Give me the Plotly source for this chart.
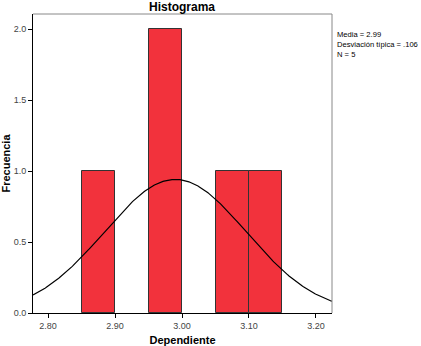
import numpy as np
import plotly.graph_objects as go

bin_left = [2.85, 2.95, 3.05, 3.10]
counts = [1, 2, 1, 1]
bin_width = 0.05
media = 2.99
desv = 0.106
n = 5
x_ticks = [2.80, 2.90, 3.00, 3.10, 3.20]
y_ticks = [0.0, 0.5, 1.0, 1.5, 2.0]

x_range = [2.7776, 3.2239]
y_range = [0, 2.106]

centers = [b + bin_width / 2 for b in bin_left]

xs = np.linspace(x_range[0], x_range[1], 300)
ys = n * bin_width / (desv * np.sqrt(2 * np.pi)) * np.exp(-0.5 * ((xs - media) / desv) ** 2)

fig = go.Figure()
fig.add_trace(go.Bar(x=centers, y=counts, width=bin_width,
                     marker=dict(color="#F2323C", line=dict(color="#333333", width=1)),
                     showlegend=False, hoverinfo="skip"))
fig.add_trace(go.Scatter(x=xs, y=ys, mode="lines", line=dict(color="#000000", width=1.2),
                         showlegend=False, hoverinfo="skip"))

fig.update_layout(
    width=421, height=346,
    margin=dict(l=33, r=89, t=14, b=33, autoexpand=False),
    paper_bgcolor="white", plot_bgcolor="white",
    font=dict(family="Arial, Liberation Sans", size=9, color="#444444"),
    title=dict(text="<b>Histograma</b>", x=182 / 421, xanchor="center", y=1 - 7 / 346, yanchor="middle",
               font=dict(size=12, color="#000000")),
    bargap=0,
    xaxis=dict(range=x_range, tickvals=x_ticks, ticktext=[f"{v:.2f}" for v in x_ticks],
               showgrid=False, zeroline=False, ticks="outside", ticklen=4, tickcolor="#000000",
               showline=True, linecolor="#000000", linewidth=1, mirror=False, automargin=False,
               title=dict(text="<b>Dependiente</b>", font=dict(size=11, color="#000000"), standoff=7)),
    yaxis=dict(range=y_range, tickvals=y_ticks, ticktext=[f"{v:.1f}" for v in y_ticks],
               showgrid=False, zeroline=False, ticks="outside", ticklen=4, tickcolor="#000000",
               showline=True, linecolor="#000000", linewidth=1, automargin=False,
               title=dict(text="<b>Frecuencia</b>", font=dict(size=11, color="#000000"), standoff=4)),
    shapes=[
        dict(type="line", xref="paper", yref="paper", x0=0, x1=1, y0=1, y1=1,
             line=dict(color="#888888", width=1)),
        dict(type="line", xref="paper", yref="paper", x0=1, x1=1, y0=0, y1=1,
             line=dict(color="#888888", width=1)),
    ],
    annotations=[
        dict(text=f"Media = {media:.2f}<br>Desviación típica = .{int(round(desv*1000)):03d}<br>N = {n}",
             xref="paper", yref="paper", x=1.01, y=1 - 14 / 299, xanchor="left", yanchor="top",
             align="left", showarrow=False, font=dict(size=7.6, color="#000000")),
    ],
)

fig.write_html("out.html")
